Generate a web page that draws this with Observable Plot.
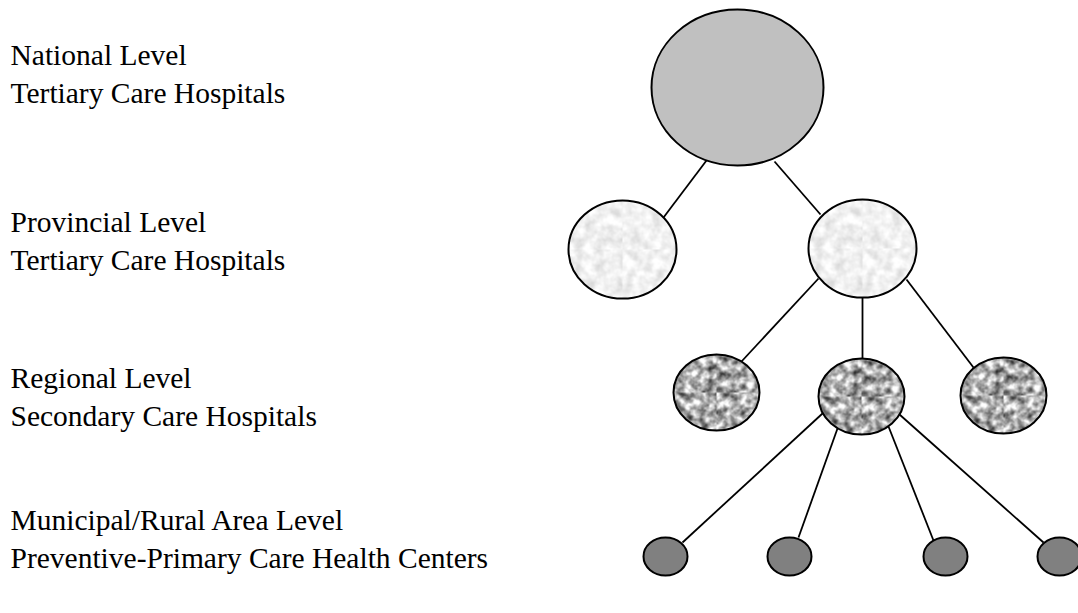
<!DOCTYPE html>
<html>
<head>
<meta charset="utf-8">
<script src="https://cdn.jsdelivr.net/npm/d3@7"></script>
<script src="https://cdn.jsdelivr.net/npm/@observablehq/plot@0.6"></script>
<style>
  html, body { margin: 0; padding: 0; background: #fff; overflow: hidden; }
</style>
</head>
<body>
<div id="chart"></div>
<script>
// ---- Data ----
const levelNames = ["National Level", "Provincial Level", "Regional Level", "Municipal/Rural Area Level"];
const careTypes = ["Tertiary Care Hospitals", "Tertiary Care Hospitals", "Secondary Care Hospitals", "Preventive-Primary Care Health Centers"];

// tree nodes (diagram coordinates)
const nodeLevel = [0, 1, 1, 2, 2, 2, 3, 3, 3, 3];
const nodeX = [737, 622, 862, 716, 861, 1003, 665, 789, 945, 1059];
const nodeY = [87, 249, 248, 392, 396, 395, 556, 556, 556, 556];
const nodeRx = [86, 54, 54, 43, 43, 43, 22, 22, 22, 22];

// connector segments
const edgeX1 = [706, 774, 818, 862, 906, 822, 837, 888, 899];
const edgeY1 = [160, 161, 278, 297, 279, 413, 428, 426, 414];
const edgeX2 = [663, 820, 741, 862, 973, 682, 798, 933, 1043];
const edgeY2 = [217, 214, 361, 358, 367, 542, 537, 540, 542];

// ---- Layout / styles ----
const W = 1078, H = 613;
const labelBaselines = [[64, 102], [231, 269], [387, 425], [529, 567]];
const levelAspect = [1.103, 1.10, 1.13, 1.16];
const levelFill = ["#c0c0c0", "url(#texLight)", "url(#texGranite)", "#808080"];

function ellipseSymbol(aspect) {
  const k = 0.5522847498;
  return {
    draw(ctx, size) {
      const rx = Math.sqrt(size / Math.PI);
      const ry = rx / aspect;
      ctx.moveTo(rx, 0);
      ctx.bezierCurveTo(rx, k * ry, k * rx, ry, 0, ry);
      ctx.bezierCurveTo(-k * rx, ry, -rx, k * ry, -rx, 0);
      ctx.bezierCurveTo(-rx, -k * ry, -k * rx, -ry, 0, -ry);
      ctx.bezierCurveTo(k * rx, -ry, rx, -k * ry, rx, 0);
      ctx.closePath();
    }
  };
}

const nodes = nodeX.map((x, i) => ({x, y: nodeY[i], r: nodeRx[i], level: nodeLevel[i]}));
const edges = edgeX1.map((x1, i) => ({x1, y1: edgeY1[i], x2: edgeX2[i], y2: edgeY2[i]}));
const labels = [];
levelNames.forEach((name, i) => {
  labels.push({text: name, y: labelBaselines[i][0]});
  labels.push({text: careTypes[i], y: labelBaselines[i][1]});
});

const nodeMarks = [0, 1, 2, 3].map(lv =>
  Plot.dot(nodes.filter(d => d.level === lv), {
    x: "x", y: "y", r: "r",
    symbol: ellipseSymbol(levelAspect[lv]),
    fill: levelFill[lv],
    stroke: "#000",
    strokeWidth: 2
  })
);

const chart = Plot.plot({
  width: W,
  height: H,
  margin: 0,
  x: {domain: [0, W], range: [0, W], axis: null},
  y: {domain: [0, H], range: [0, H], axis: null},
  r: {type: "identity"},
  style: {background: "#fff", overflow: "hidden"},
  marks: [
    Plot.link(edges, {x1: "x1", y1: "y1", x2: "x2", y2: "y2", stroke: "#000", strokeWidth: 1.8}),
    ...nodeMarks,
    Plot.text(labels, {
      x: () => 10, y: "y", text: "text",
      textAnchor: "start", lineAnchor: "bottom",
      fontFamily: "Liberation Serif, Times New Roman, serif",
      fontSize: 29.5, fill: "#000"
    })
  ]
});

// textures
const defs = d3.select(chart).insert("defs", ":first-child");
function texture(id, freq, octaves, gain, offset, seed) {
  const fid = id + "Filter";
  const f = defs.append("filter").attr("id", fid)
    .attr("x", 0).attr("y", 0).attr("width", 1).attr("height", 1)
    .attr("color-interpolation-filters", "sRGB");
  f.append("feTurbulence").attr("type", "fractalNoise")
    .attr("baseFrequency", freq).attr("numOctaves", octaves).attr("seed", seed);
  const v = `${gain} 0 0 0 ${offset}`;
  f.append("feColorMatrix").attr("type", "matrix")
    .attr("values", `${v} ${v} ${v} 0 0 0 0 1`);
  const p = defs.append("pattern").attr("id", id)
    .attr("patternUnits", "userSpaceOnUse")
    .attr("x", 0).attr("y", 0).attr("width", W).attr("height", H);
  p.append("rect").attr("width", W).attr("height", H).attr("filter", `url(#${fid})`);
}
texture("texLight", 0.1, 3, 0.28, 0.80, 3);
texture("texGranite", 0.13, 3, 1.4, -0.03, 11);

document.getElementById("chart").appendChild(chart);
</script>
</body>
</html>
